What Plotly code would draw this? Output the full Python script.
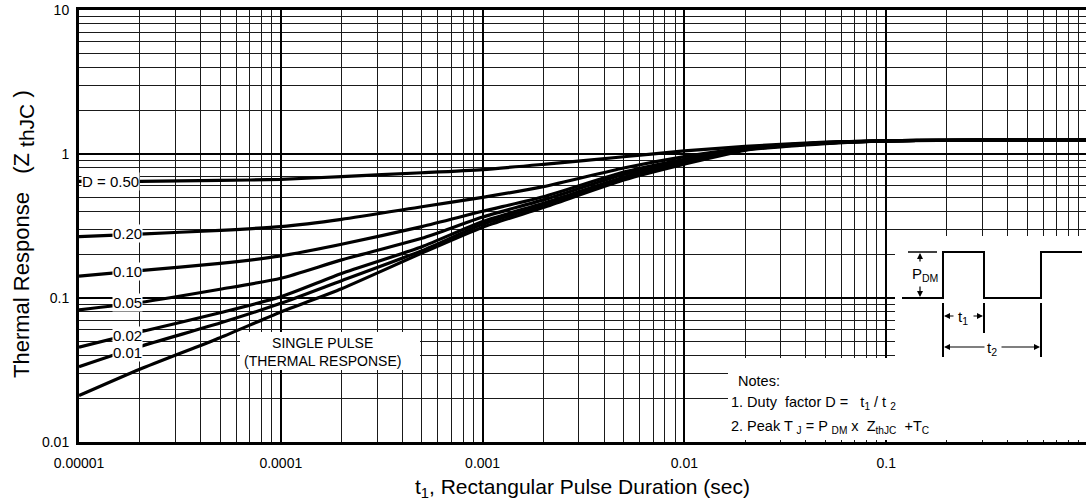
import plotly.graph_objects as go

# ---- data ----
t_sec = [1e-5, 2e-5, 5e-5, 1e-4, 2e-4, 5e-4, 1e-3, 2e-3, 5e-3, 1e-2, 2e-2, 5e-2, 1e-1, 2e-1, 5e-1, 1.0]
z_d050 = [0.645, 0.646, 0.655, 0.667, 0.697, 0.741, 0.78, 0.848, 0.957, 1.05, 1.13, 1.21, 1.235, 1.245, 1.25, 1.25]
z_d020 = [0.267, 0.278, 0.295, 0.313, 0.352, 0.43, 0.50, 0.593, 0.80, 0.96, 1.10, 1.20, 1.235, 1.245, 1.25, 1.25]
z_d010 = [0.142, 0.155, 0.174, 0.196, 0.236, 0.313, 0.40, 0.505, 0.75, 0.92, 1.09, 1.20, 1.235, 1.245, 1.25, 1.25]
z_d005 = [0.0826, 0.093, 0.115, 0.137, 0.184, 0.26, 0.365, 0.48, 0.72, 0.90, 1.08, 1.195, 1.235, 1.245, 1.25, 1.25]
z_d002 = [0.0455, 0.058, 0.079, 0.102, 0.148, 0.227, 0.34, 0.455, 0.69, 0.88, 1.075, 1.19, 1.235, 1.245, 1.25, 1.25]
z_d001 = [0.0333, 0.046, 0.067, 0.0918, 0.132, 0.213, 0.325, 0.44, 0.68, 0.87, 1.07, 1.19, 1.235, 1.245, 1.25, 1.25]
z_single = [0.021, 0.032, 0.053, 0.080, 0.116, 0.205, 0.31, 0.425, 0.66, 0.85, 1.06, 1.18, 1.235, 1.245, 1.25, 1.25]

series = [z_d050, z_d020, z_d010, z_d005, z_d002, z_d001, z_single]

x_tickvals = [1e-5, 1e-4, 1e-3, 1e-2, 1e-1]
x_ticktext = ["0.00001", "0.0001", "0.001", "0.01", "0.1"]
y_tickvals = [0.01, 0.1, 1, 10]
y_ticktext = ["0.01", "0.1", "1", "10"]

curve_labels = ["D = 0.50", "0.20", "0.10", "0.05", "0.02", "0.01"]

# ---- layout geometry (page pixels) ----
W, H = 1086, 504
ML, MR, MT, MB = 79, 0, 10, 62
PW, PH = W - ML - MR, H - MT - MB
PLOT_L, PLOT_B = ML, H - MB


def X(px):
    return (px - PLOT_L) / PW


def Y(py):
    return (PLOT_B - py) / PH


FONT = "Arial, Liberation Sans, sans-serif"

fig = go.Figure()
for z in series:
    fig.add_trace(go.Scatter(x=t_sec, y=z, mode="lines",
                             line=dict(color="black", width=3.2, shape="spline", smoothing=0.6),
                             hoverinfo="skip", showlegend=False))

x_minor = [m * 10.0 ** e for e in range(-5, 0) for m in range(2, 10)]
y_minor = [m * 10.0 ** e for e in range(-2, 1) for m in range(2, 10)]

fig.update_xaxes(type="log", range=[-5, -0.01], tickmode="array", tickvals=x_tickvals,
                 ticktext=x_ticktext, showgrid=True, gridcolor="black", gridwidth=2,
                 showline=True, linecolor="black", linewidth=3, mirror=True,
                 ticks="", ticklen=0, ticklabelstandoff=6, zeroline=False,
                 ticklabeloverflow="allow",
                 tickfont=dict(family=FONT, size=14, color="black"),
                 minor=dict(tickmode="array", tickvals=x_minor, showgrid=True,
                            gridcolor="#1a1a1a", gridwidth=1, ticks="", ticklen=0))
fig.update_yaxes(type="log", range=[-2, 1], tickmode="array", tickvals=y_tickvals,
                 ticktext=y_ticktext, showgrid=True, gridcolor="black", gridwidth=2,
                 showline=True, linecolor="black", linewidth=3, mirror=False,
                 ticks="", ticklen=0, ticklabelstandoff=4, zeroline=False,
                 ticklabeloverflow="allow",
                 tickfont=dict(family=FONT, size=14, color="black"),
                 minor=dict(tickmode="array", tickvals=y_minor, showgrid=True,
                            gridcolor="#1a1a1a", gridwidth=1, ticks="", ticklen=0))

shapes = []
# white masking boxes
for (x0, y0, x1, y1) in [(240, 332, 420, 370), (728, 358, 1086, 440), (895, 236, 1086, 358)]:
    shapes.append(dict(type="rect", xref="paper", yref="paper", x0=X(x0), x1=X(x1),
                       y0=Y(y1), y1=Y(y0), fillcolor="white", line=dict(width=0), layer="above"))

# pulse diagram
pulse_pts = [(902, 298), (943, 298), (943, 252), (984, 252), (984, 298), (1041, 298),
             (1041, 252), (1082, 252)]
path = "M " + " L ".join(f"{X(a):.5f},{Y(b):.5f}" for a, b in pulse_pts)
shapes.append(dict(type="path", xref="paper", yref="paper", path=path,
                   line=dict(color="black", width=2), layer="above"))
seg = dict(type="line", xref="paper", yref="paper", layer="above")
for (a0, b0, a1, b1, w) in [(908, 252, 937, 252, 1.5),
                            (943, 303, 943, 357, 2), (984, 303, 984, 333, 2),
                            (1041, 303, 1041, 357, 2)]:
    shapes.append(dict(seg, x0=X(a0), y0=Y(b0), x1=X(a1), y1=Y(b1),
                       line=dict(color="black", width=w)))
fig.update_layout(shapes=shapes)

ann = []
# axis titles
ann.append(dict(x=X(582), y=Y(488), xref="paper", yref="paper",
                text="t<sub>1</sub>, Rectangular Pulse Duration (sec)", showarrow=False,
                xanchor="center", yanchor="middle",
                font=dict(family=FONT, size=21, color="black")))
ann.append(dict(x=X(23), y=Y(234), xref="paper", yref="paper", textangle=-90,
                text="Thermal Response   (Z <sub><span style='font-size:21px'>thJC</span></sub> )",
                showarrow=False, xanchor="center", yanchor="middle",
                font=dict(family=FONT, size=22, color="black")))

# curve labels
label_pos = [(81, 181), (112, 233), (112, 271), (112, 302), (112, 335), (112, 352)]
for (px, py), txt in zip(label_pos, curve_labels):
    ann.append(dict(x=X(px), y=Y(py), xref="paper", yref="paper", text=txt, showarrow=False,
                    xanchor="left", yanchor="middle", bgcolor="white", borderpad=0,
                    font=dict(family=FONT, size=15, color="black")))

ann.append(dict(x=X(322), y=Y(352), xref="paper", yref="paper",
                text="SINGLE PULSE<br>(THERMAL RESPONSE)", showarrow=False,
                xanchor="center", yanchor="middle", align="center",
                font=dict(family=FONT, size=14, color="black")))

notes = ["Notes:",
         "1. Duty  factor D =   t<sub>1</sub> / t <sub>2</sub>",
         "2. Peak T <sub>J</sub> = P <sub>DM</sub> x  Z<sub>thJC</sub>  +T<sub>C</sub>"]
for (px, py), txt in zip([(736, 381), (729, 403), (729, 427)], notes):
    ann.append(dict(x=X(px), y=Y(py), xref="paper", yref="paper", text=txt, showarrow=False,
                    xanchor="left", yanchor="middle",
                    font=dict(family=FONT, size=14.5, color="black")))

# diagram labels
ann.append(dict(x=X(925), y=Y(274), xref="paper", yref="paper", text="P<sub>DM</sub>",
                showarrow=False, xanchor="center", yanchor="middle",
                font=dict(family=FONT, size=15, color="black")))
ann.append(dict(x=X(963), y=Y(317), xref="paper", yref="paper", text="t<sub>1</sub>",
                showarrow=False, xanchor="center", yanchor="middle",
                font=dict(family=FONT, size=15, color="black")))
ann.append(dict(x=X(992), y=Y(348), xref="paper", yref="paper", text="t<sub>2</sub>",
                showarrow=False, xanchor="center", yanchor="middle",
                font=dict(family=FONT, size=15, color="black")))

arrow = dict(xref="paper", yref="paper", text="", showarrow=True, arrowhead=2,
             arrowsize=1, arrowwidth=1.2, arrowcolor="black")
for (hx, hy, ax, ay) in [(920, 253, 0, 10), (920, 297, 0, -12),
                         (944, 316, 11, 0), (983, 316, -11, 0),
                         (944, 347, 42, 0), (1040, 347, -40, 0)]:
    ann.append(dict(arrow, x=X(hx), y=Y(hy), ax=ax, ay=ay))

fig.update_layout(annotations=ann, width=W, height=H,
                  margin=dict(l=ML, r=MR, t=MT, b=MB),
                  paper_bgcolor="white", plot_bgcolor="white",
                  hovermode=False,
                  font=dict(family=FONT, color="black"))

fig.write_html("out.html", config={"displayModeBar": False, "staticPlot": True},
               post_script="document.body.style.margin='0px';")
